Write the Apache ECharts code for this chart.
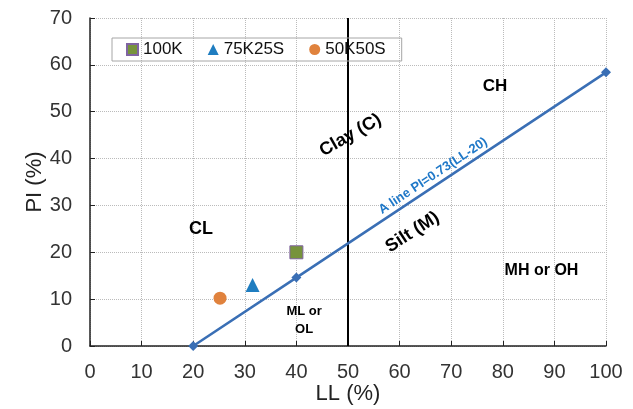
<!DOCTYPE html>
<html><head><meta charset="utf-8">
<script src="https://cdn.jsdelivr.net/npm/echarts@6/dist/echarts.min.js"></script>
<style>html,body{margin:0;padding:0;background:#fff}#c{width:633px;height:409px}</style>
</head><body><div id="c"></div>
<script>
const aLineLL = [20, 40, 100];
const aLinePI = [0, 14.6, 58.4];
const uLineLL = [50, 50];
const uLinePI = [0, 70];
const sample100K = [[40, 20]];
const sample75K25S = [[31.5, 13]];
const sample50K50S = [[25.2, 10.2]];
const xTicks = [0,10,20,30,40,50,60,70,80,90,100];
const yTicks = [0,10,20,30,40,50,60,70];
const zoneLabels = [
  {text: 'CH', x: 78.5, y: 55.5, rot: 0, size: 17},
  {text: 'Clay (C)', x: 50.5, y: 45, rot: 30, size: 18},
  {text: 'CL', x: 21.5, y: 25, rot: 0, size: 18},
  {text: 'Silt (M)', x: 62.5, y: 24.3, rot: 33, size: 18},
  {text: 'MH or OH', x: 87.5, y: 16, rot: 0, size: 16},
  {text: 'ML or\nOL', x: 41.5, y: 5.5, rot: 0, size: 13},
  {text: 'A line PI=0.73(LL-20)', x: 66.5, y: 36.3, rot: 33.6, size: 13, color: '#1F78C8'}
];

const chart = echarts.init(document.getElementById('c'));
const font = 'Liberation Sans, Arial, sans-serif';
chart.setOption({
  animation: false,
  textStyle: {fontFamily: font},
  grid: {left: 90, right: 27, top: 18, bottom: 63, outerBoundsMode: 'none', containLabel: false},
  legend: {
    left: 112, top: 38, width: 288, height: 25,
    padding: [3, 16, 3, 14],
    borderColor: '#a6a6a6', borderWidth: 1,
    itemWidth: 11, itemHeight: 11, itemGap: 25,
    textStyle: {fontSize: 17, color: '#111', fontFamily: font},
    data: [
      {name: '100K', icon: 'rect'},
      {name: '75K25S', icon: 'triangle'},
      {name: '50K50S', icon: 'circle'}
    ]
  },
  xAxis: {
    type: 'value', min: 0, max: 100, interval: 10,
    name: 'LL (%)', nameLocation: 'middle', nameGap: 37, nameMoveOverlap: false,
    nameTextStyle: {fontSize: 22, color: '#222', fontFamily: font},
    axisLine: {show: true, onZero: false, lineStyle: {color: '#222', width: 1.5}},
    axisTick: {show: true, inside: true, length: 5, lineStyle: {color: '#222'}},
    axisLabel: {fontSize: 20, color: '#333', margin: 16},
    splitLine: {show: true, lineStyle: {color: '#bbb', type: 'dotted'}}
  },
  yAxis: {
    type: 'value', min: 0, max: 70, interval: 10,
    name: 'PI (%)', nameLocation: 'middle', nameGap: 44, nameMoveOverlap: false,
    nameTextStyle: {fontSize: 22, color: '#222', fontFamily: font},
    axisLine: {show: true, onZero: false, lineStyle: {color: '#222', width: 1.5}},
    axisTick: {show: true, inside: true, length: 5, lineStyle: {color: '#222'}},
    axisLabel: {fontSize: 20, color: '#333', margin: 18},
    splitLine: {show: true, lineStyle: {color: '#bbb', type: 'dotted'}}
  },
  series: [
    {
      name: 'A line', type: 'line', data: aLineLL.map((v, i) => [v, aLinePI[i]]),
      symbol: 'diamond', symbolSize: 10, showAllSymbol: true,
      lineStyle: {color: '#3A6FB5', width: 2.5},
      itemStyle: {color: '#3A6FB5'}, z: 3
    },
    {
      name: 'U', type: 'line', data: uLineLL.map((v, i) => [v, uLinePI[i]]),
      symbol: 'none', lineStyle: {color: '#000', width: 2}, z: 2
    },
    {
      name: '100K', type: 'scatter', data: sample100K, symbol: 'rect', symbolSize: 13,
      itemStyle: {color: '#77933C', borderColor: '#8064A2', borderWidth: 1, opacity: 1}, z: 5
    },
    {
      name: '75K25S', type: 'scatter', data: sample75K25S, symbol: 'triangle', symbolSize: 14,
      itemStyle: {color: '#1F7DC0', opacity: 1}, z: 5
    },
    {
      name: '50K50S', type: 'scatter', data: sample50K50S, symbol: 'circle', symbolSize: 13,
      itemStyle: {color: '#E0823D', opacity: 1}, z: 5
    },
    {
      name: 'zones', type: 'scatter', symbolSize: 0, silent: true, z: 6,
      itemStyle: {opacity: 1},
      data: zoneLabels.map(z => ({
        value: [z.x, z.y],
        label: {
          show: true, position: 'inside', formatter: z.text, rotate: z.rot,
          fontSize: z.size, fontWeight: 'bold', color: z.color || '#000',
          textBorderWidth: 0,
          fontFamily: font, align: 'center', verticalAlign: 'middle', lineHeight: z.size + 5
        }
      }))
    }
  ]
});
</script></body></html>
